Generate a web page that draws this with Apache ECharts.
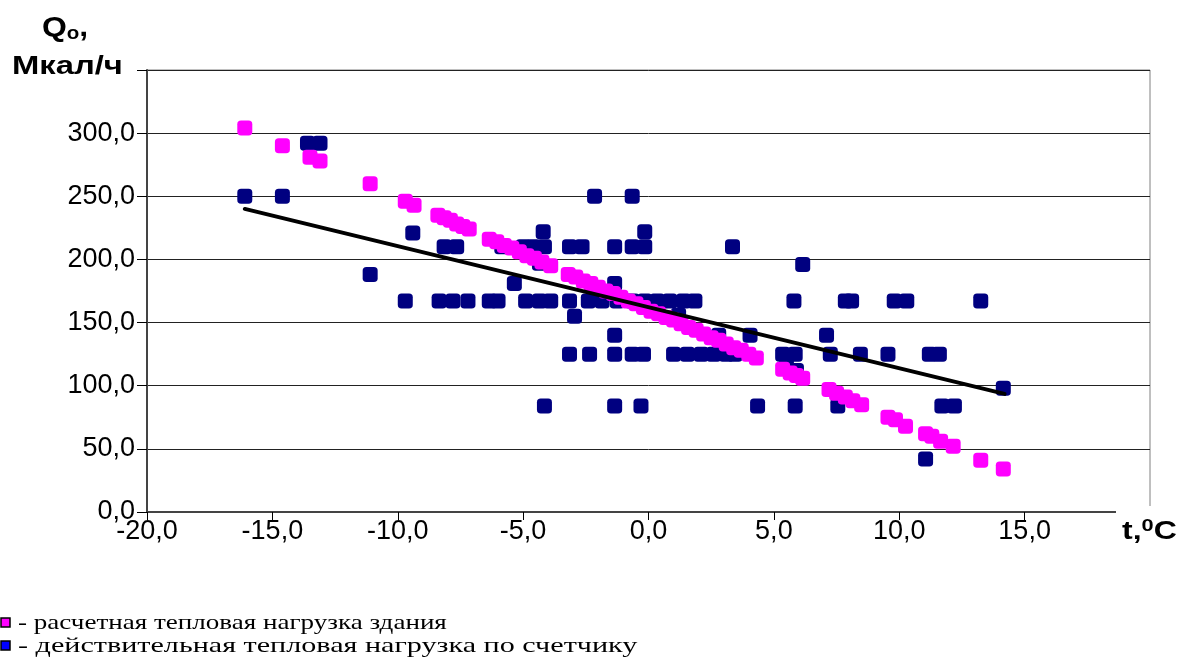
<!DOCTYPE html>
<html><head><meta charset="utf-8">
<script src="https://cdn.jsdelivr.net/npm/echarts@6/dist/echarts.min.js"></script>
<style>html,body{margin:0;padding:0;background:#fff}#c{width:1181px;height:662px}</style>
</head><body><div id="c"></div>
<script>
// Calculated building heat load (magenta): [t, Q]
const calcT = [-16.1,-14.6,-13.5,-13.1,-11.1,-9.7,-9.35,-8.4,-8.15,-7.9,-7.65,-7.4,-7.15,
  -6.35,-6.05,-5.75,-5.45,-5.15,-4.85,-4.55,-4.25,-3.9,
  -3.2,-2.9,-2.6,-2.3,-2.0,-1.7,-1.4,-1.1,-0.8,-0.5,-0.2,
  0.1,0.4,0.7,1.0,1.3,1.6,1.9,2.2,2.5,2.8,3.1,3.4,3.7,4.0,4.3,
  5.35,5.65,5.9,6.15,7.2,7.5,7.85,8.15,8.5,9.55,9.85,10.25,11.05,11.3,11.65,12.15,13.25,14.15];
const calcQ = [304,290,281,278,260,246,243,235,233,231,228,226,224,
  216,214,211,209,206,203,201,198,195,
  188,186,183,181,178,175,173,170,167,165,162,
  159,157,154,152,149,146,144,141,138,136,133,130,128,125,122,
  113,110,108,106,97,94,91,88,85,75,73,68,62,60,56,52,41,34];
// Actual heat load by meter (navy): [t, Q]
const measT = [-16.1,-14.6,-13.6,-13.1,-11.1,
  -9.4,-4.2,-0.15,-2.15,-0.65,
  -8.15,-7.65,-5.85,-5.0,-4.6,-4.15,-3.15,-2.65,-1.35,-0.65,-0.15,3.35,
  -4.35,6.15,-5.35,-1.35,
  -9.7,-8.35,-7.8,-7.2,-6.35,-6.0,-4.9,-4.35,-3.9,-3.15,-2.4,-1.85,-1.25,-0.65,-0.15,
  0.35,0.85,1.4,1.85,5.8,7.85,8.1,9.8,10.3,13.25,
  1.2,-2.95,-1.35,2.8,4.05,7.1,
  -3.15,-2.35,-1.35,-0.65,-0.2,1.0,1.55,2.1,2.6,3.1,3.45,5.35,5.85,7.25,8.45,9.55,11.2,11.6,
  5.5,5.9,
  -4.15,-1.35,-0.3,4.35,5.85,7.55,11.7,12.2,
  14.15,11.05];
const measQ = [250,250,292,292,188,
  221,222,222,250,250,
  210,210,210,210,210,210,210,210,210,210,210,210,
  197,196,181,181,
  167,167,167,167,167,167,167,167,167,167,167,167,167,167,167,
  167,167,167,167,167,167,167,167,167,167,
  156,155,140,140,140,140,
  125,125,125,125,125,125,125,125,125,125,125,125,125,125,125,125,125,125,
  117,112,
  84,84,84,84,84,84,84,84,
  98,42];
// Trend line endpoints
const trendT = [-16.1, 14.2];
const trendQ = [240, 93.5];
// Axis ranges and ticks
const xMin = -20, xMax = 20, xStep = 5;
const yMin = 0, yMax = 350, yStep = 50;

const zip = (a,b) => a.map((v,i)=>[v,b[i]]);
const fmt = v => v.toFixed(1).replace('.', ',');
const chart = echarts.init(document.getElementById('c'));
chart.setOption({
  animation:false,
  grid:{left:147,right:31,top:70,bottom:150,show:true,borderColor:'#808080',borderWidth:1,backgroundColor:'#fff'},
  xAxis:{type:'value',min:xMin,max:xMax,interval:xStep,
    axisLine:{onZero:false,lineStyle:{color:'#444',width:2}},
    axisTick:{show:true,length:8,lineStyle:{color:'#000',width:1}},
    splitLine:{show:false},
    axisLabel:{color:'#000',fontFamily:'Liberation Sans',fontSize:27,margin:6,
      formatter:v=> v===xMax ? '' : fmt(v)}},
  yAxis:{type:'value',min:yMin,max:yMax,interval:yStep,
    axisLine:{show:true,onZero:false,lineStyle:{color:'#444',width:2}},
    axisTick:{show:true,length:10,lineStyle:{color:'#000',width:1}},
    splitLine:{show:true,lineStyle:{color:'#222',width:1}},
    axisLabel:{color:'#000',fontFamily:'Liberation Sans',fontSize:27,margin:12,
      formatter:v=> v===yMax ? '' : fmt(v)}},
  series:[
    {type:'scatter',name:'meas',data:zip(measT,measQ),symbol:'roundRect',symbolSize:15,
      itemStyle:{color:'#000080',opacity:1},z:2},
    {type:'scatter',name:'calc',data:zip(calcT,calcQ),symbol:'roundRect',symbolSize:15,
      itemStyle:{color:'#FF00FF',opacity:1},z:3},
    {type:'line',name:'trend',data:zip(trendT,trendQ),symbol:'none',
      lineStyle:{color:'#000',width:4,cap:'round'},z:4}
  ],
  graphic:[
    {type:'text',x:42,y:13,scaleX:1.14,z:10,style:{text:'{q|Q}{s|o}{q|,}',rich:{
      q:{fontFamily:'Liberation Sans',fontWeight:'bold',fontSize:28,fill:'#000'},
      s:{fontFamily:'Liberation Sans',fontWeight:'bold',fontSize:18,fill:'#000',padding:[12,0,0,0]}}}},
    {type:'text',x:12,y:54,scaleX:1.26,z:10,style:{text:'Мкал/ч',fontFamily:'Liberation Sans',fontWeight:'bold',fontSize:26,fill:'#000'}},
    {type:'rect',shape:{x:1116,y:506,width:65,height:44},style:{fill:'#fff'},z:9},
    {type:'text',x:1122,y:518,scaleX:1.28,z:10,style:{text:'{a|t,}{b|0}{a|C}',rich:{
      a:{fontFamily:'Liberation Sans',fontWeight:'bold',fontSize:25,fill:'#000'},
      b:{fontFamily:'Liberation Sans',fontWeight:'bold',fontSize:17,fill:'#000',padding:[0,0,12,0]}}}},
    {type:'rect',shape:{x:1,y:618,width:9,height:9},style:{fill:'#FF00FF',stroke:'#000',lineWidth:1.5},z:10},
    {type:'text',x:18,y:612,scaleX:1.23,z:10,style:{text:'- расчетная тепловая нагрузка здания',fontFamily:'Liberation Serif',fontSize:22,fill:'#000'}},
    {type:'rect',shape:{x:1,y:641,width:9,height:9},style:{fill:'#0000FF',stroke:'#000',lineWidth:1.5},z:10},
    {type:'text',x:18,y:635,scaleX:1.37,z:10,style:{text:'- действительная тепловая нагрузка по счетчику',fontFamily:'Liberation Serif',fontSize:22,fill:'#000'}}
  ]
});
</script></body></html>
